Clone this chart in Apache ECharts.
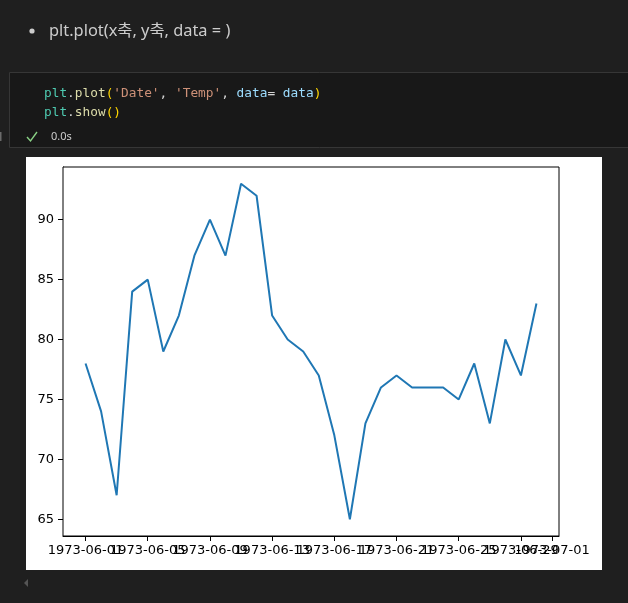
<!DOCTYPE html>
<html>
<head>
<meta charset="utf-8">
<script src="https://cdn.jsdelivr.net/npm/echarts@6/dist/echarts.min.js"></script>
<style>
html,body{margin:0;padding:0;background:#1f1f1f;}
#chart{width:628px;height:603px;}
</style>
</head>
<body>
<div id="chart"></div>
<script>
// ---- data ----
const dates = ['1973-06-01','1973-06-02','1973-06-03','1973-06-04','1973-06-05','1973-06-06','1973-06-07','1973-06-08','1973-06-09','1973-06-10',
  '1973-06-11','1973-06-12','1973-06-13','1973-06-14','1973-06-15','1973-06-16','1973-06-17','1973-06-18','1973-06-19','1973-06-20',
  '1973-06-21','1973-06-22','1973-06-23','1973-06-24','1973-06-25','1973-06-26','1973-06-27','1973-06-28','1973-06-29','1973-06-30'];
const temps = [78,74,67,84,85,79,82,87,90,87,93,92,82,80,79,77,72,65,73,76,77,76,76,76,75,78,73,80,77,83];
const xTickLabels = ['1973-06-01','1973-06-05','1973-06-09','1973-06-13','1973-06-17','1973-06-21','1973-06-25','1973-06-29','1973-07-01'];
const yTicks = [65,70,75,80,85,90];

// ---- build ----
const DAY = 86400000;
const toMs = s => Date.parse(s + 'T00:00:00Z');
const t0 = toMs(dates[0]);
const toDay = s => Math.round((toMs(s) - t0) / DAY);
const points = dates.map((d, i) => [toDay(d), temps[i]]);
const xTickValues = xTickLabels.map(toDay);
// split ticks into two non-overlapping groups (so the library does not drop any label)
const xTicksA = xTickValues.filter((v, i) => i % 2 === 0);
const xTicksB = xTickValues.filter((v, i) => i % 2 === 1);
const xMinData = toDay(dates[0]), xMaxData = toDay(dates[dates.length - 1]);
const xPad = (xMaxData - xMinData) * 0.05;
const yMinData = Math.min(...temps), yMaxData = Math.max(...temps);
const yPad = (yMaxData - yMinData) * 0.05;
const fmtDay = v => new Date(t0 + Math.round(v) * DAY).toISOString().slice(0, 10);

const chart = echarts.init(document.getElementById('chart'), null, {renderer: 'canvas'});
const mono = '"DejaVu Sans Mono","Liberation Mono",monospace';
const ui = '"Noto Sans","Noto Sans CJK KR",sans-serif';

function xAxisWith(ticks, showLine) {
  return {
    type: 'value',
    position: 'bottom',
    offset: 0,
    min: xMinData - xPad,
    max: xMaxData + xPad,
    splitLine: {show: false},
    axisLine: {show: showLine, onZero: false, lineStyle: {color: '#000', width: 1}},
    axisTick: {show: true, customValues: ticks, length: 5, lineStyle: {color: '#000', width: 1}},
    axisLabel: {show: true, customValues: ticks, formatter: v => fmtDay(v), color: '#000', fontSize: 13, fontFamily: '"DejaVu Sans"', margin: 8, hideOverlap: false, showMinLabel: true, showMaxLabel: true}
  };
}

chart.setOption({
  backgroundColor: '#1f1f1f',
  animation: false,
  graphic: [
    {type: 'circle', shape: {cx: 32, cy: 31, r: 2.6}, style: {fill: '#cccccc'}},
    {type: 'text', x: 49, y: 31, style: {text: 'plt.plot(x축, y축, data = )', fill: '#cccccc', font: '16.4px ' + ui, textVerticalAlign: 'middle'}},
    {type: 'rect', shape: {x: 9.5, y: 72.5, width: 630, height: 75}, style: {fill: '#181818', stroke: '#363636', lineWidth: 1}},
    {type: 'text', x: 44, y: 94, style: {
      text: '{t|plt}{w|.}{f|plot}{p|(}{s|\'Date\'}{w|, }{s|\'Temp\'}{w|, }{v|data}{w|= }{v|data}{p|)}',
      textVerticalAlign: 'middle',
      font: '12.8px ' + mono,
      rich: {
        t: {fill: '#4ec9b0', font: '12.8px ' + mono},
        w: {fill: '#d4d4d4', font: '12.8px ' + mono},
        f: {fill: '#dcdcaa', font: '12.8px ' + mono},
        p: {fill: '#ffd700', font: '12.8px ' + mono},
        s: {fill: '#ce9178', font: '12.8px ' + mono},
        v: {fill: '#9cdcfe', font: '12.8px ' + mono}
      }
    }},
    {type: 'text', x: 44, y: 113, style: {
      text: '{t|plt}{w|.}{f|show}{p|()}',
      textVerticalAlign: 'middle',
      font: '12.8px ' + mono,
      rich: {
        t: {fill: '#4ec9b0', font: '12.8px ' + mono},
        w: {fill: '#d4d4d4', font: '12.8px ' + mono},
        f: {fill: '#dcdcaa', font: '12.8px ' + mono},
        p: {fill: '#ffd700', font: '12.8px ' + mono}
      }
    }},
    {type: 'polyline', shape: {points: [[27, 137], [30.5, 141], [37, 132]]}, style: {stroke: '#89d185', lineWidth: 1.4, fill: null}},
    {type: 'text', x: 51, y: 137, style: {text: '0.0s', fill: '#cccccc', font: '11px ' + ui, textVerticalAlign: 'middle'}},
    {type: 'rect', shape: {x: 0, y: 132, width: 1.5, height: 9}, style: {fill: '#6a6a6a'}},
    {type: 'rect', z: -10, shape: {x: 26, y: 157, width: 576, height: 413}, style: {fill: '#ffffff'}},
    {type: 'polygon', shape: {points: [[24, 583], [28, 579], [28, 587]]}, style: {fill: '#555555'}}
  ],
  grid: {left: 63, right: 69, top: 167, bottom: 67, show: true, borderColor: '#000', borderWidth: 1, backgroundColor: '#ffffff', z: 1},
  xAxis: [xAxisWith(xTicksA, true), xAxisWith(xTicksB, false)],
  yAxis: {
    type: 'value',
    min: yMinData - yPad,
    max: yMaxData + yPad,
    splitLine: {show: false},
    axisLine: {show: true, onZero: false, lineStyle: {color: '#000', width: 1}},
    axisTick: {show: true, customValues: yTicks, length: 5, lineStyle: {color: '#000', width: 1}},
    axisLabel: {show: true, customValues: yTicks, color: '#000', fontSize: 13, fontFamily: '"DejaVu Sans"', margin: 9}
  },
  series: [{
    type: 'line',
    xAxisIndex: 0,
    data: points,
    showSymbol: false,
    symbol: 'none',
    lineStyle: {color: '#1f77b4', width: 2},
    z: 5
  }]
});
</script>
</body>
</html>
